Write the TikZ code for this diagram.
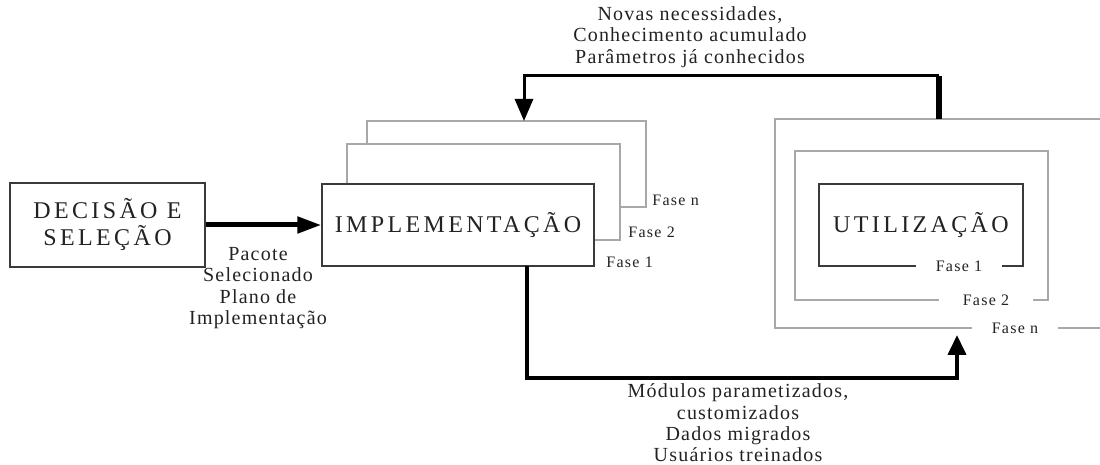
\documentclass[tikz,border=0pt]{standalone}
\usepackage{fontspec}
\setmainfont{Liberation Serif}
\newfontfamily\boxfont[LetterSpace=14]{Liberation Serif}
\newfontfamily\labelfont[LetterSpace=6]{Liberation Serif}
\newfontfamily\fasefont[LetterSpace=8]{Liberation Serif}
\usetikzlibrary{arrows.meta}
\definecolor{linedark}{HTML}{3A3A3A}
\definecolor{linegray}{HTML}{A8A8A8}
\definecolor{textdark}{HTML}{222222}

\begin{document}
\begin{tikzpicture}[x=0.5pt, y=-0.5pt,
  main/.style = {draw=linedark, line width=0.7pt, fill=white, inner sep=0pt, text=textdark, align=center, font=\boxfont\fontsize{12}{13.5}\selectfont},
  back/.style = {draw=linegray, line width=0.7pt, fill=white, inner sep=0pt},
  fase/.style = {inner sep=1pt, text=textdark, font=\fasefont\fontsize{8}{9}\selectfont},
  cut/.style = {fase, fill=white, inner xsep=10pt},
  info/.style = {align=center, inner sep=0pt, text=textdark, font=\labelfont\fontsize{10}{10.7}\selectfont},
  flow/.style = {line width=2pt, -{Triangle[length=10pt, width=9pt]}}]

\useasboundingbox (0,0) rectangle (1100,465);

\node[main, minimum width=97.5pt, minimum height=42pt] (dec) at (107.5,225) {DECISÃO E\\SELEÇÃO};

\node[back, minimum width=139.5pt, minimum height=43pt] (implN) at (506.5,164) {};
\node[back, minimum width=136.5pt, minimum height=48pt] (impl2) at (483.5,192) {};
\node[main, minimum width=136pt, minimum height=41pt] (impl) at (458,225) {IMPLEMENTAÇÃO};
\node[fase, anchor=west] (implfN) at (650,200) {Fase n};
\node[fase, anchor=west] (implf2) at (626,232) {Fase 2};
\node[fase, anchor=west] (implf1) at (604,262) {Fase 1};

\draw[linegray, line width=0.7pt] (1100,119) -- (775,119) -- (775,328) -- (1100,328);
\node[back, minimum width=126.5pt, minimum height=74.5pt] (uso2) at (921.5,225.5) {};
\node[main, minimum width=102pt, minimum height=41pt] (uso) at (921,225) {UTILIZAÇÃO};
\node[cut] (usof1) at (959,266) {Fase 1};
\node[cut, inner xsep=12pt] (usof2) at (986,300) {Fase 2};
\node[cut] (usofN) at (1015,328) {Fase n};

\coordinate (implout) at (527,266);
\coordinate (bend) at (957,378);
\coordinate (usoin) at (957,335);
\coordinate (usoout) at (939,119);
\coordinate (topbend) at (939,76);
\coordinate (implin) at (524,121);

\draw[flow, line width=2.5pt, -{Triangle[length=12pt, width=8pt]}] (dec) -- (impl);
\draw[flow] (implout) |- (bend) -- (usoin);
\draw[line width=3pt] (usoout) -- (topbend);
\draw[line width=1.5pt, -{Triangle[length=11pt, width=9pt]}] (topbend) -| (implin);

\node[info] (pacote) at (258,288) {Pacote\\Selecionado\\Plano de\\Implementação};
\node[info] (novas) at (690,37) {Novas necessidades,\\Conhecimento acumulado\\Parâmetros já conhecidos};
\node[info] (modulos) at (738,423) {Módulos parametizados,\\customizados\\Dados migrados\\Usuários treinados};

\end{tikzpicture}
\end{document}
